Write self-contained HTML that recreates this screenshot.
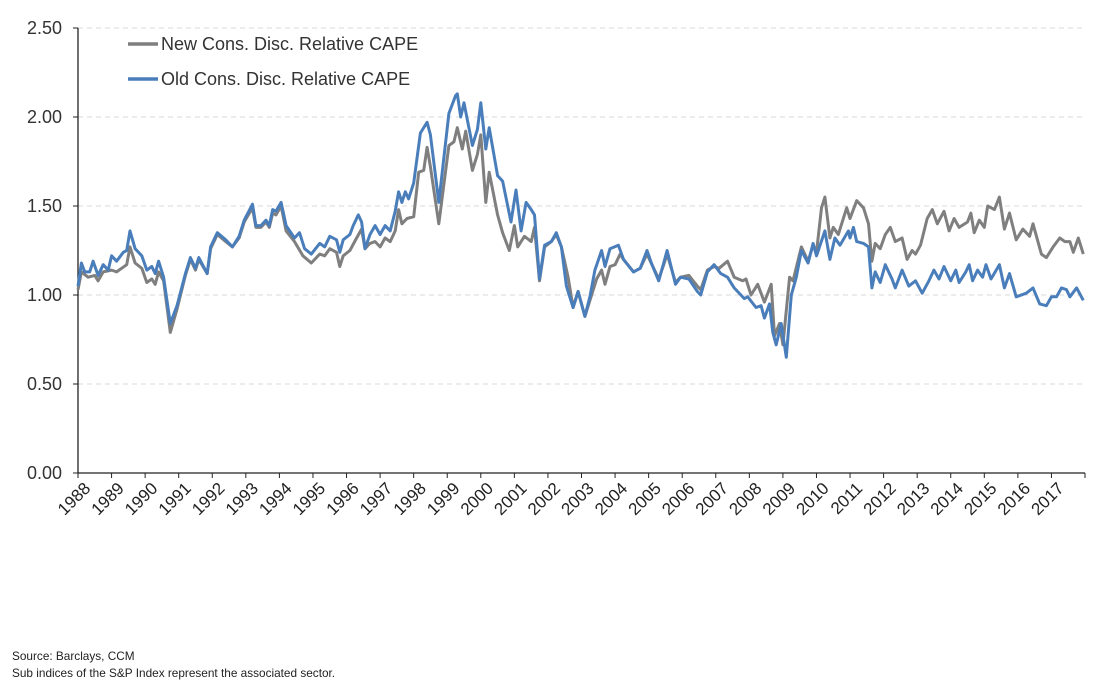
<!DOCTYPE html>
<html><head><meta charset="utf-8"><style>
body{margin:0;background:#fff;width:1109px;height:686px;overflow:hidden;font-family:"Liberation Sans",sans-serif}
svg text{font-family:"Liberation Sans",sans-serif}
.foot{position:absolute;left:12px;font-size:11.8px;color:#222}
</style></head><body>
<svg id="chart" width="1109" height="686" style="position:absolute;left:0;top:0"></svg>
<div class="foot" style="top:649px">Source: Barclays, CCM</div>
<div class="foot" style="top:666px">Sub indices of the S&amp;P Index represent the associated sector.</div>
<script>
const yTicks=[0,0.5,1,1.5,2,2.5];
const yTickLabels=["0.00","0.50","1.00","1.50","2.00","2.50"];
const years=[1988,1989,1990,1991,1992,1993,1994,1995,1996,1997,1998,1999,2000,2001,2002,2003,2004,2005,2006,2007,2008,2009,2010,2011,2012,2013,2014,2015,2016,2017];
const seriesNames=["New Cons. Disc. Relative CAPE","Old Cons. Disc. Relative CAPE"];
const oldDates=[1988.0,1988.1,1988.2,1988.35,1988.45,1988.6,1988.75,1988.9,1989.0,1989.15,1989.35,1989.45,1989.55,1989.7,1989.9,1990.05,1990.2,1990.3,1990.4,1990.55,1990.75,1990.95,1991.2,1991.35,1991.5,1991.6,1991.85,1991.95,1992.15,1992.4,1992.6,1992.8,1992.95,1993.2,1993.3,1993.45,1993.6,1993.7,1993.8,1993.9,1994.05,1994.2,1994.45,1994.6,1994.75,1994.95,1995.2,1995.35,1995.5,1995.7,1995.8,1995.9,1996.1,1996.2,1996.35,1996.45,1996.55,1996.7,1996.85,1997.0,1997.15,1997.3,1997.45,1997.55,1997.65,1997.75,1997.85,1998.0,1998.2,1998.4,1998.5,1998.75,1999.05,1999.25,1999.3,1999.4,1999.5,1999.75,1999.9,2000.0,2000.15,2000.25,2000.5,2000.65,2000.9,2001.05,2001.2,2001.35,2001.5,2001.6,2001.75,2001.9,2002.1,2002.25,2002.4,2002.55,2002.75,2002.9,2003.1,2003.25,2003.4,2003.6,2003.7,2003.85,2004.1,2004.25,2004.55,2004.75,2004.95,2005.1,2005.3,2005.45,2005.55,2005.8,2005.95,2006.2,2006.45,2006.55,2006.75,2006.95,2007.15,2007.35,2007.55,2007.85,2007.95,2008.2,2008.35,2008.45,2008.6,2008.7,2008.8,2008.95,2009.1,2009.25,2009.4,2009.55,2009.75,2009.9,2010.0,2010.25,2010.4,2010.55,2010.7,2010.95,2011.0,2011.1,2011.2,2011.4,2011.55,2011.65,2011.75,2011.9,2012.05,2012.25,2012.35,2012.55,2012.75,2012.95,2013.15,2013.35,2013.5,2013.65,2013.8,2014.0,2014.15,2014.25,2014.45,2014.55,2014.65,2014.8,2014.95,2015.05,2015.2,2015.45,2015.6,2015.75,2015.95,2016.25,2016.45,2016.65,2016.85,2017.0,2017.15,2017.3,2017.45,2017.55,2017.75,2017.95];
const oldValues=[1.05,1.18,1.13,1.13,1.19,1.11,1.17,1.14,1.22,1.19,1.24,1.25,1.36,1.26,1.22,1.14,1.16,1.12,1.19,1.10,0.84,0.94,1.12,1.21,1.15,1.21,1.12,1.27,1.35,1.31,1.27,1.33,1.42,1.51,1.39,1.39,1.42,1.39,1.48,1.47,1.52,1.39,1.32,1.35,1.26,1.23,1.29,1.27,1.33,1.31,1.24,1.31,1.34,1.39,1.45,1.41,1.26,1.34,1.39,1.34,1.39,1.36,1.47,1.58,1.52,1.58,1.54,1.63,1.91,1.97,1.90,1.52,2.02,2.12,2.13,2.00,2.08,1.84,1.93,2.08,1.82,1.94,1.67,1.64,1.41,1.59,1.36,1.52,1.48,1.45,1.09,1.28,1.30,1.35,1.27,1.05,0.93,1.02,0.88,0.99,1.14,1.25,1.16,1.26,1.28,1.20,1.13,1.15,1.25,1.17,1.08,1.18,1.25,1.06,1.10,1.09,1.02,1.00,1.13,1.17,1.12,1.10,1.04,0.98,0.99,0.93,0.94,0.87,0.95,0.79,0.72,0.84,0.65,1.00,1.10,1.25,1.18,1.29,1.22,1.36,1.20,1.32,1.28,1.36,1.32,1.38,1.30,1.29,1.27,1.04,1.13,1.07,1.17,1.09,1.04,1.14,1.05,1.08,1.01,1.08,1.14,1.09,1.16,1.08,1.14,1.07,1.13,1.17,1.08,1.14,1.10,1.17,1.09,1.17,1.04,1.12,0.99,1.01,1.04,0.95,0.94,0.99,0.99,1.04,1.03,0.99,1.04,0.97];
const newDates=[1988.0,1988.1,1988.3,1988.5,1988.6,1988.75,1989.0,1989.15,1989.3,1989.45,1989.55,1989.7,1989.9,1990.05,1990.2,1990.3,1990.4,1990.55,1990.75,1990.95,1991.2,1991.35,1991.5,1991.6,1991.85,1991.95,1992.15,1992.4,1992.6,1992.8,1992.95,1993.2,1993.3,1993.45,1993.6,1993.7,1993.8,1993.9,1994.05,1994.2,1994.45,1994.7,1994.95,1995.2,1995.35,1995.5,1995.7,1995.8,1995.9,1996.1,1996.3,1996.45,1996.55,1996.7,1996.85,1997.0,1997.15,1997.3,1997.45,1997.55,1997.65,1997.8,1998.0,1998.15,1998.3,1998.4,1998.5,1998.75,1999.05,1999.2,1999.3,1999.45,1999.55,1999.75,1999.9,2000.0,2000.15,2000.25,2000.5,2000.65,2000.85,2001.0,2001.1,2001.3,2001.5,2001.6,2001.75,2001.9,2002.1,2002.25,2002.4,2002.6,2002.75,2002.9,2003.1,2003.3,2003.45,2003.6,2003.7,2003.85,2004.0,2004.15,2004.25,2004.55,2004.75,2004.95,2005.1,2005.3,2005.45,2005.55,2005.8,2005.95,2006.2,2006.45,2006.55,2006.75,2006.95,2007.1,2007.35,2007.55,2007.8,2007.9,2008.05,2008.25,2008.45,2008.65,2008.75,2008.9,2009.0,2009.2,2009.3,2009.55,2009.75,2009.9,2010.0,2010.15,2010.25,2010.4,2010.5,2010.65,2010.9,2011.0,2011.2,2011.4,2011.55,2011.65,2011.75,2011.9,2012.05,2012.2,2012.35,2012.55,2012.7,2012.85,2012.95,2013.1,2013.3,2013.45,2013.6,2013.8,2013.95,2014.1,2014.25,2014.5,2014.6,2014.7,2014.85,2015.0,2015.1,2015.3,2015.45,2015.6,2015.75,2015.95,2016.15,2016.35,2016.45,2016.7,2016.85,2017.05,2017.25,2017.4,2017.55,2017.65,2017.8,2017.95];
const newValues=[1.03,1.13,1.10,1.11,1.08,1.13,1.14,1.13,1.15,1.17,1.27,1.18,1.15,1.07,1.09,1.06,1.13,1.08,0.79,0.92,1.11,1.20,1.14,1.20,1.12,1.26,1.34,1.30,1.27,1.32,1.41,1.49,1.38,1.38,1.41,1.38,1.46,1.45,1.50,1.36,1.30,1.22,1.18,1.23,1.22,1.26,1.24,1.16,1.22,1.25,1.32,1.37,1.26,1.29,1.30,1.27,1.32,1.30,1.36,1.48,1.40,1.43,1.44,1.69,1.70,1.83,1.72,1.40,1.84,1.86,1.94,1.82,1.92,1.70,1.79,1.90,1.52,1.69,1.45,1.35,1.25,1.39,1.27,1.33,1.30,1.38,1.08,1.27,1.30,1.34,1.27,1.10,0.93,1.02,0.88,1.00,1.09,1.14,1.06,1.16,1.17,1.23,1.20,1.13,1.15,1.23,1.17,1.09,1.17,1.23,1.07,1.10,1.11,1.05,1.03,1.14,1.16,1.15,1.19,1.10,1.08,1.09,1.00,1.06,0.96,1.06,0.77,0.84,0.72,1.10,1.08,1.27,1.19,1.28,1.24,1.49,1.55,1.32,1.38,1.34,1.49,1.43,1.53,1.49,1.40,1.19,1.29,1.26,1.34,1.38,1.30,1.32,1.20,1.25,1.23,1.28,1.43,1.48,1.40,1.47,1.36,1.43,1.38,1.41,1.46,1.35,1.42,1.38,1.50,1.48,1.55,1.37,1.46,1.31,1.37,1.33,1.40,1.23,1.21,1.27,1.32,1.30,1.30,1.24,1.32,1.23];

const NS="http://www.w3.org/2000/svg";
const svg=document.getElementById('chart');
const X0=78,X1=1085,Y0=473,Y1=28,T0=1988,T1=2018,V1=2.5;
const xs=t=>X0+(t-T0)/(T1-T0)*(X1-X0);
const ys=v=>Y0-v/V1*(Y0-Y1);
function mk(tag,attrs){const e=document.createElementNS(NS,tag);for(const k in attrs)e.setAttribute(k,attrs[k]);svg.appendChild(e);return e;}
yTicks.forEach((v,i)=>{
  if(v>0){const g=mk('line',{x1:X0,x2:X1,y1:ys(v),y2:ys(v),stroke:'#d9d9d9','stroke-dasharray':'5,4','stroke-width':1});
  
  }
  const tk=mk('line',{x1:X0-5,x2:X0,y1:ys(v),y2:ys(v),stroke:'#222'});
  
  
  const t=mk('text',{x:62,y:ys(v)+6,'text-anchor':'end','font-size':18,fill:'#333'});
  t.textContent=yTickLabels[i];
  
  
});
const ya=mk('line',{x1:X0,x2:X0,y1:Y1,y2:Y0,stroke:'#222','stroke-width':1.3});


const xa=mk('line',{x1:X0,x2:X1,y1:Y0,y2:Y0,stroke:'#222','stroke-width':1.3});


for(let y=T0;y<=T1;y++){
  const tk=mk('line',{x1:xs(y),x2:xs(y),y1:Y0,y2:Y0+5,stroke:'#222'});
  
  
}
years.forEach(y=>{
  const x=xs(y)+5,yy=Y0+8;
  const t=mk('text',{x:x,y:yy,'text-anchor':'end','font-size':17,fill:'#222',transform:`rotate(-45 ${x} ${yy})`,dy:'0.7em'});
  t.textContent=y;
  
  
});
function line(d,v,c,name){
  const p=mk('polyline',{points:d.map((t,i)=>xs(t).toFixed(1)+','+ys(v[i]).toFixed(1)).join(' '),fill:'none',stroke:c,'stroke-width':3,'stroke-linejoin':'round'});
  
  
}
line(newDates,newValues,'#7f7f7f','new-series-line');
line(oldDates,oldValues,'#4a7ebb','old-series-line');
[['#7f7f7f',44],['#4a7ebb',79]].forEach((c,i)=>{
  const l=mk('line',{x1:128,x2:158,y1:c[1],y2:c[1],stroke:c[0],'stroke-width':3.5});
  
  
  const t=mk('text',{x:161,y:c[1]+6,'font-size':18,fill:'#333'});
  t.textContent=seriesNames[i];
  
  
});
</script>
</body></html>
